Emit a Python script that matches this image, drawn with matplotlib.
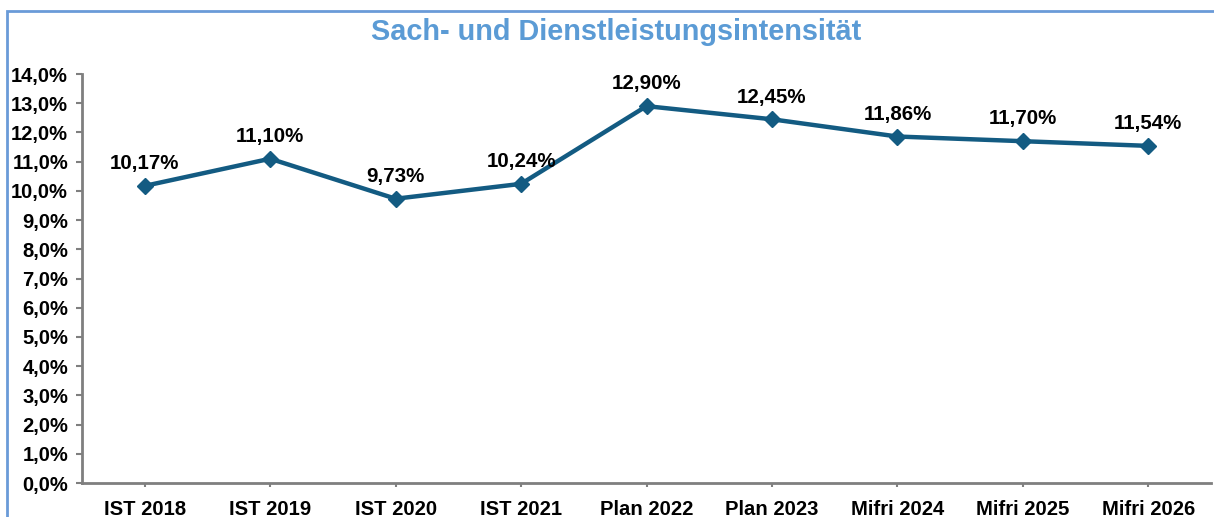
import matplotlib
matplotlib.use("Agg")
import matplotlib.pyplot as plt
from matplotlib.patches import Rectangle
from matplotlib.ticker import FuncFormatter, MultipleLocator

categories = ["IST 2018", "IST 2019", "IST 2020", "IST 2021", "Plan 2022",
              "Plan 2023", "Mifri 2024", "Mifri 2025", "Mifri 2026"]
values = [10.17, 11.10, 9.73, 10.24, 12.90, 12.45, 11.86, 11.70, 11.54]
title = "Sach- und Dienstleistungsintensität"

plt.rcParams['font.family'] = ['Liberation Sans', 'DejaVu Sans']

W, H = 1214, 517
fig = plt.figure(figsize=(W / 100, H / 100), dpi=100)
fig.patch.set_facecolor('white')

# outer frame
fig.add_artist(Rectangle((7 / W, -0.1), 1.2, (H - 11) / H + 0.1,
                         transform=fig.transFigure, fill=False,
                         edgecolor='#6a9bd8', linewidth=2))

ax = fig.add_axes([82 / W, (H - 483) / H, (1211 - 82) / W, (483 - 74) / H])
x = list(range(len(categories)))
line_color = '#135b82'
ax.plot(x, values, color=line_color, linewidth=3.2, marker='D',
        markersize=8.5, markerfacecolor=line_color, markeredgecolor=line_color,
        solid_joinstyle='miter')

for xi, v in zip(x, values):
    ax.annotate(f"{v:.2f}%".replace('.', ','), (xi, v), xytext=(0, 16),
                textcoords='offset points', ha='center', va='center',
                fontsize=14.8, fontweight='bold', color='black')

ax.set_xlim(-0.5, len(categories) - 0.5)
ax.set_ylim(0, 14)
ax.yaxis.set_major_locator(MultipleLocator(1))
ax.yaxis.set_major_formatter(FuncFormatter(lambda v, p: f"{v:.1f}%".replace('.', ',')))
ax.set_xticks(x)
ax.set_xticklabels(categories)

for s in ['top', 'right']:
    ax.spines[s].set_visible(False)
for s in ['left', 'bottom']:
    ax.spines[s].set_color('#7f7f7f')
    ax.spines[s].set_linewidth(2)

ax.tick_params(axis='y', length=4, width=1.5, color='#7f7f7f', pad=6,
               labelsize=14.5)
ax.tick_params(axis='x', length=3, width=1.5, color='#7f7f7f', pad=9,
               labelsize=14.6)
for lab in ax.get_xticklabels() + ax.get_yticklabels():
    lab.set_fontweight('bold')

fig.text(616 / W, 1 - 32 / H, title, ha='center', va='center',
         fontsize=20.8, fontweight='bold', color='#5b9bd5')

fig.savefig('out.png', dpi=100)
